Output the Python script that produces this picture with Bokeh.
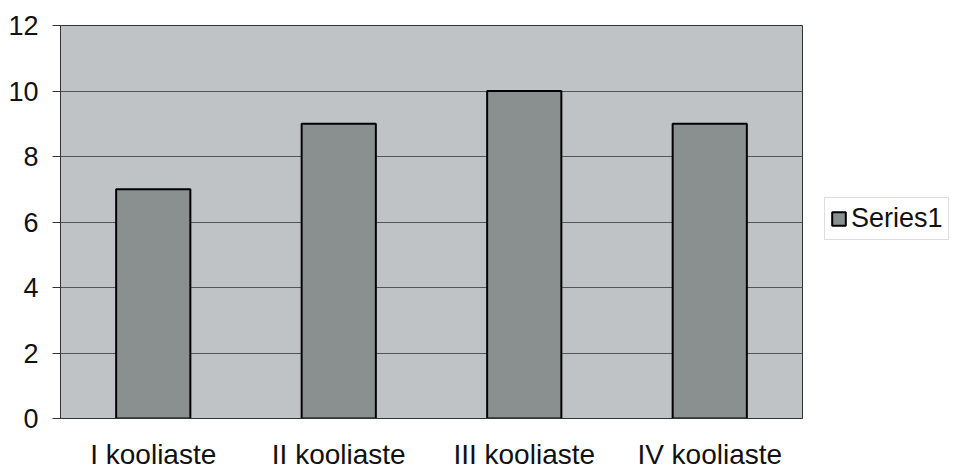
from bokeh.plotting import figure
from bokeh.models import ColumnDataSource, Legend, LegendItem, Range1d, FixedTicker
from bokeh.embed import file_html
from bokeh.resources import INLINE

categories = ["I kooliaste", "II kooliaste", "III kooliaste", "IV kooliaste"]
values = [7, 9, 10, 9]
series_name = "Series1"
y_ticks = [0, 2, 4, 6, 8, 10, 12]

src = ColumnDataSource(dict(cat=categories, val=values))

p = figure(x_range=categories, y_range=Range1d(0, 12),
           frame_width=742, frame_height=393,
           output_backend="svg", toolbar_location=None,
           min_border_left=60, min_border_top=25, min_border_bottom=47, min_border_right=152)
p.background_fill_color = "#bfc3c6"
p.border_fill_color = "white"
p.outline_line_color = "#333333"

r = p.vbar(x="cat", top="val", width=0.4, source=src, fill_color="#8a9090",
           line_color="black", line_width=2)

p.xgrid.grid_line_color = None
p.ygrid.grid_line_color = "#555555"
p.ygrid.grid_line_width = 1
p.yaxis.ticker = FixedTicker(ticks=y_ticks)

for ax in (p.xaxis[0], p.yaxis[0]):
    ax.axis_line_color = "#333333"
    ax.major_label_text_font = "Liberation Sans"
    ax.major_label_text_color = "#111111"
    ax.minor_tick_line_color = None

p.yaxis.major_label_text_font_size = "27px"
p.yaxis.major_tick_out = 8
p.yaxis.major_tick_in = 0
p.yaxis.major_tick_line_color = "#333333"
p.yaxis.major_label_standoff = 14
p.xaxis.major_label_text_font_size = "28px"
p.xaxis.major_tick_line_color = None
p.xaxis.major_label_standoff = 14

legend = Legend(items=[LegendItem(label=series_name, renderers=[r])],
                location=(22, 178))
legend.label_text_font = "Liberation Sans"
legend.label_text_font_size = "27px"
legend.label_text_color = "#111111"
legend.glyph_width = 17
legend.glyph_height = 17
legend.label_standoff = 4
legend.padding = 5
legend.margin = 0
legend.border_line_color = "#bbbbbb"
legend.background_fill_color = "white"
p.add_layout(legend, "right")

open("out.html", "w").write(file_html(p, INLINE))
